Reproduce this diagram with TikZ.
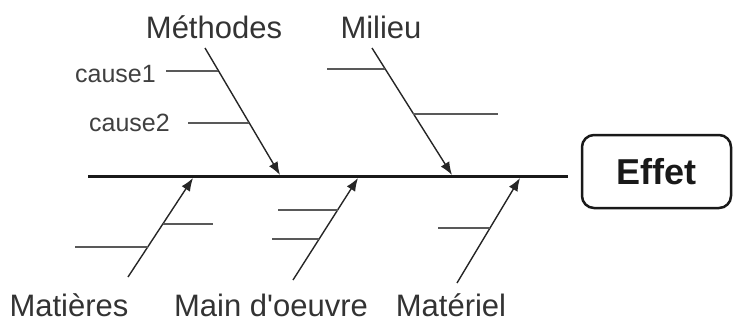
\documentclass[tikz,border=0pt]{standalone}
\usepackage{fontspec}
\setmainfont{Liberation Sans}
\usetikzlibrary{arrows.meta}
\begin{document}
\begin{tikzpicture}[x=1pt,y=-1pt,
  lbl/.style={font=\fontsize{31}{31}\selectfont, text=black!80, anchor=base, inner sep=0pt},
  small/.style={font=\fontsize{25}{25}\selectfont, text=black!75, anchor=base east, inner sep=0pt},
  spine/.style={line width=3pt, black!90},
  branch/.style={line width=1.4pt, black!85, -{Latex[length=13pt,width=10pt]}},
  sub/.style={line width=1.3pt, black!65},
  effetbox/.style={draw, black!90, rounded corners=12pt, line width=2.5pt, minimum width=149pt, minimum height=73pt, inner sep=0pt, font=\bfseries\fontsize{36}{36}\selectfont},
]
\useasboundingbox (0,0) rectangle (733,324);
% spine
\coordinate (s0) at (88,176);
\coordinate (s1) at (568,176);
\draw[spine] (s0) -- (s1);
% effect
\node[effetbox] (effet) at (656.5,171.5) {Effet};
% labels
\node[lbl] (meth) at (214,38) {Méthodes};
\node[lbl] (mil) at (381,38) {Milieu};
\node[lbl] (mat) at (69,316) {Matières};
\node[lbl] (main) at (271,316) {Main d\textquotesingle oeuvre};
\node[lbl] (matl) at (451,316) {Matériel};
\node[small] (c1) at (156,82) {cause1};
\node[small] (c2) at (170,131) {cause2};
% branch coordinates
\coordinate (methA) at (205,48);  \coordinate (methB) at (280,175);
\coordinate (milA) at (372,48);   \coordinate (milB) at (452,175);
\coordinate (matA) at (128,277);  \coordinate (matB) at (193,178);
\coordinate (mainA) at (293,280); \coordinate (mainB) at (358,178);
\coordinate (matlA) at (457,283); \coordinate (matlB) at (520,178);
\draw[branch] (methA) -- (methB);
\draw[branch] (milA) -- (milB);
\draw[branch] (matA) -- (matB);
\draw[branch] (mainA) -- (mainB);
\draw[branch] (matlA) -- (matlB);
% sub-cause lines
\coordinate (m1a) at (166,71);  \coordinate (m1b) at (218,71);
\coordinate (m2a) at (188,123); \coordinate (m2b) at (249,123);
\coordinate (l1a) at (327,69);  \coordinate (l1b) at (385,69);
\coordinate (l2a) at (413,114); \coordinate (l2b) at (498,114);
\coordinate (t1a) at (75,247);  \coordinate (t1b) at (148,247);
\coordinate (t2a) at (163,224); \coordinate (t2b) at (213,224);
\coordinate (o1a) at (278,210); \coordinate (o1b) at (338,210);
\coordinate (o2a) at (272,239); \coordinate (o2b) at (319,239);
\coordinate (r1a) at (438,228); \coordinate (r1b) at (490,228);
\foreach \a/\b in {m1a/m1b,m2a/m2b,l1a/l1b,l2a/l2b,t1a/t1b,t2a/t2b,o1a/o1b,o2a/o2b,r1a/r1b}
  \draw[sub] (\a) -- (\b);
\end{tikzpicture}
\end{document}
